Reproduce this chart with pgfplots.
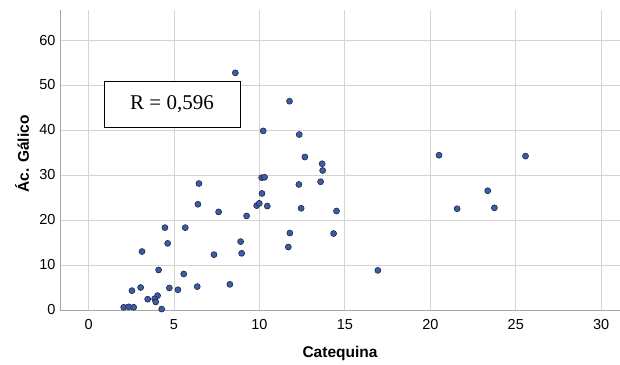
\documentclass[border=0pt]{standalone}
\usepackage{fontspec}
\setmainfont{Liberation Sans}
\newfontfamily\serifR{Liberation Serif}
\usepackage{pgfplots}
\pgfplotsset{compat=1.18}
\definecolor{gridc}{HTML}{D4D4D4}
\definecolor{axc}{HTML}{A6A6A6}
\definecolor{markfill}{HTML}{3D5CA8}
\definecolor{markedge}{HTML}{1E2640}
\begin{document}
\begin{tikzpicture}
\useasboundingbox (-60pt,-54pt) rectangle (560pt,310pt);
\begin{axis}[
  scale only axis,
  width=560pt, height=300pt,
  xmin=-1.67, xmax=31.1,
  ymin=0, ymax=66.67,
  axis x line=bottom, axis y line=left,
  axis line style={axc, line width=0.9pt, -},
  xtick={0,5,10,15,20,25,30},
  ytick={0,10,20,30,40,50,60},
  major tick length=0pt,
  grid=major,
  major grid style={gridc, line width=0.9pt},
  tick label style={font=\fontsize{14.5}{16}\selectfont, text=black},
  /pgf/number format/assume math mode=true,
  xticklabel style={yshift=-6pt},
  yticklabel style={xshift=-1pt},
  xlabel={Catequina},
  ylabel={Ác. Gálico},
  every axis x label/.style={at={(axis description cs:0.5,0)}, anchor=center, yshift=-43pt,
    font=\bfseries\fontsize{15.5}{17}\selectfont},
  every axis y label/.style={at={(axis description cs:0,0.52)}, anchor=center, xshift=-38pt, rotate=90,
    font=\bfseries\fontsize{15.5}{17}\selectfont},
  clip=false,
]
\addplot[only marks, mark=*, mark size=3pt,
  mark options={fill=markfill, draw=markedge, line width=0.6pt}] coordinates {
(8.59,52.7) (11.76,46.4) (10.22,39.8) (12.33,39.0) (12.66,34.0)
(13.67,32.5) (13.70,31.0) (10.13,29.4) (10.30,29.5) (13.58,28.5)
(6.46,28.1) (12.31,27.9) (10.15,25.9) (6.40,23.5) (9.84,23.2)
(9.99,23.7) (10.46,23.1) (12.44,22.6) (14.51,22.0) (7.61,21.8)
(9.25,20.9) (4.47,18.3) (5.66,18.3) (11.78,17.1) (14.34,17.0)
(4.63,14.8) (8.90,15.2) (11.69,14.0) (3.13,13.0) (7.34,12.3)
(8.96,12.6) (4.10,8.9) (5.57,8.0) (16.93,8.8) (8.27,5.7)
(2.54,4.3) (3.05,5.0) (4.73,4.9) (5.23,4.5) (6.36,5.2)
(3.46,2.4) (4.04,3.2) (3.87,2.5) (3.93,1.8) (2.06,0.6)
(2.35,0.7) (2.64,0.6) (4.28,0.2) (20.51,34.4) (25.57,34.2)
(23.36,26.5) (21.57,22.5) (23.75,22.7)
};
\node[draw=black, line width=0.9pt, fill=white, minimum width=136pt, minimum height=46pt,
  inner sep=0pt, font=\serifR\fontsize{21}{24}\selectfont]
  at (axis cs:4.885,45.7) {R = 0,596};
\end{axis}
\end{tikzpicture}
\end{document}
